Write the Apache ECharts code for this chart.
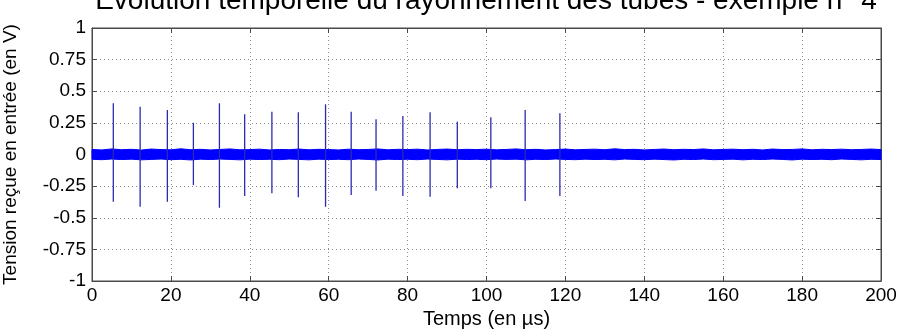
<!DOCTYPE html>
<html>
<head>
<meta charset="utf-8">
<script src="https://cdn.jsdelivr.net/npm/echarts@6/dist/echarts.min.js"></script>
<style>
  html, body { margin: 0; padding: 0; background: #fff; }
  #chart { width: 913px; height: 335px; }
</style>
</head>
<body>
<div id="chart"></div>
<script>
// Axis ticks
const timeTicks = [0, 20, 40, 60, 80, 100, 120, 140, 160, 180, 200];
const voltTicks = [-1, -0.75, -0.5, -0.25, 0, 0.25, 0.5, 0.75, 1];

// Radiated pulses: time (µs), positive peak and negative trough (V)
const pulseTime   = [5.4, 12.2, 19.1, 25.7, 32.3, 38.7, 45.6, 52.3, 59.2, 65.7, 72.0, 78.8, 85.7, 92.6, 101.1, 109.8, 118.6];
const pulsePeak   = [0.405, 0.378, 0.352, 0.251, 0.405, 0.318, 0.338, 0.334, 0.397, 0.338, 0.278, 0.304, 0.334, 0.259, 0.294, 0.352, 0.326];
const pulseTrough = [-0.373, -0.413, -0.373, -0.241, -0.421, -0.328, -0.307, -0.338, -0.413, -0.320, -0.286, -0.328, -0.334, -0.267, -0.267, -0.368, -0.328];

// Background noise envelope (V), sampled every 2.5 µs
const noiseTime = [0, 2.5, 5, 7.5, 10, 12.5, 15, 17.5, 20, 22.5, 25, 27.5, 30, 32.5, 35, 37.5, 40, 42.5, 45, 47.5,
                   50, 52.5, 55, 57.5, 60, 62.5, 65, 67.5, 70, 72.5, 75, 77.5, 80, 82.5, 85, 87.5, 90, 92.5, 95, 97.5,
                   100, 102.5, 105, 107.5, 110, 112.5, 115, 117.5, 120, 122.5, 125, 127.5, 130, 132.5, 135, 137.5, 140, 142.5, 145, 147.5,
                   150, 152.5, 155, 157.5, 160, 162.5, 165, 167.5, 170, 172.5, 175, 177.5, 180, 182.5, 185, 187.5, 190, 192.5, 195, 197.5, 200];
const noiseHigh = [0.040, 0.036, 0.044, 0.038, 0.041, 0.035, 0.043, 0.039, 0.037, 0.045, 0.038, 0.041, 0.036, 0.040, 0.044, 0.037, 0.039, 0.042, 0.036, 0.040,
                   0.038, 0.043, 0.037, 0.041, 0.039, 0.036, 0.042, 0.038, 0.040, 0.044, 0.037, 0.041, 0.039, 0.042, 0.036, 0.040, 0.043, 0.038, 0.041, 0.039,
                   0.042, 0.037, 0.040, 0.044, 0.038, 0.041, 0.036, 0.039, 0.043, 0.037, 0.040, 0.042, 0.038, 0.045, 0.039, 0.041, 0.036, 0.040, 0.043, 0.038,
                   0.041, 0.039, 0.044, 0.037, 0.040, 0.042, 0.038, 0.041, 0.036, 0.043, 0.039, 0.040, 0.044, 0.037, 0.041, 0.039, 0.042, 0.038, 0.040, 0.043, 0.039];
const noiseLow  = [-0.038, -0.041, -0.036, -0.040, -0.037, -0.042, -0.039, -0.036, -0.041, -0.038, -0.043, -0.037, -0.040, -0.036, -0.039, -0.042, -0.037, -0.040, -0.038, -0.041,
                   -0.036, -0.039, -0.042, -0.037, -0.040, -0.038, -0.041, -0.036, -0.039, -0.043, -0.037, -0.040, -0.038, -0.041, -0.036, -0.039, -0.042, -0.037, -0.040, -0.038,
                   -0.041, -0.036, -0.039, -0.037, -0.042, -0.038, -0.040, -0.036, -0.039, -0.041, -0.037, -0.040, -0.038, -0.042, -0.036, -0.039, -0.041, -0.037, -0.040, -0.043,
                   -0.038, -0.040, -0.036, -0.041, -0.039, -0.037, -0.042, -0.038, -0.040, -0.036, -0.039, -0.043, -0.037, -0.040, -0.038, -0.041, -0.036, -0.039, -0.042, -0.038, -0.040];

const FONT = '"Liberation Sans", Arial, sans-serif';
const chart = echarts.init(document.getElementById('chart'), null, { renderer: 'canvas' });

const noiseData = noiseTime.map((t, i) => [t, noiseHigh[i], noiseLow[i]]);
const pulseData = pulseTime.map((t, i) => [t, pulsePeak[i], pulseTrough[i]]);

const gridLine = { show: true, lineStyle: { color: '#8c8c8c', type: [1, 3], width: 1 } };
const frame = { show: true, onZero: false, lineStyle: { color: '#4a4a4a' } };
const innerTick = { show: true, inside: true, length: 5, lineStyle: { color: '#4a4a4a' } };

chart.setOption({
  animation: false,
  backgroundColor: '#ffffff',
  title: {
    text: 'Évolution temporelle du rayonnement des tubes - exemple n° 4',
    left: 486, top: -13, textAlign: 'center', padding: 0,
    textStyle: { fontFamily: FONT, fontSize: 28, fontWeight: 'normal', color: '#000' }
  },
  grid: {
    left: 92, right: 32, top: 28, bottom: 54,
    outerBoundsMode: 'none', containLabel: false,
    show: true, borderColor: '#4a4a4a', borderWidth: 1, backgroundColor: '#fff'
  },
  xAxis: [{
    type: 'value', min: timeTicks[0], max: timeTicks[timeTicks.length - 1], interval: 20,
    name: 'Temps (en µs)', nameLocation: 'middle', nameGap: 25,
    nameTextStyle: { fontFamily: FONT, fontSize: 20, color: '#000' },
    axisLine: frame, axisTick: innerTick,
    axisLabel: { fontFamily: FONT, fontSize: 19, color: '#000', margin: 5 },
    splitLine: gridLine
  }, {
    type: 'value', position: 'top', min: 0, max: 200, interval: 20,
    axisLine: frame, axisTick: innerTick,
    axisLabel: { show: false }, splitLine: { show: false }
  }],
  yAxis: [{
    type: 'value', min: voltTicks[0], max: voltTicks[voltTicks.length - 1], interval: 0.25,
    name: 'Tension reçue en entrée (en V)', nameLocation: 'middle', nameGap: 72, nameRotate: 90,
    nameTextStyle: { fontFamily: FONT, fontSize: 19, color: '#000' },
    axisLine: frame, axisTick: innerTick,
    axisLabel: { fontFamily: FONT, fontSize: 19, color: '#000', margin: 6 },
    splitLine: gridLine
  }, {
    type: 'value', position: 'right', min: -1, max: 1, interval: 0.25,
    axisLine: frame, axisTick: innerTick,
    axisLabel: { show: false }, splitLine: { show: false }
  }],
  series: [{
    // Noise floor drawn as a filled band between its upper and lower envelope
    type: 'custom', name: 'bruit', xAxisIndex: 0, yAxisIndex: 0,
    data: [0],
    renderItem: function (params, api) {
      const upper = noiseData.map(d => api.coord([d[0], d[1]]));
      const lower = noiseData.map(d => api.coord([d[0], d[2]])).reverse();
      return {
        type: 'polygon',
        shape: { points: upper.concat(lower) },
        style: { fill: '#0000ff', stroke: '#0000ff', lineWidth: 1 }
      };
    },
    silent: true, z: 3
  }, {
    // Pulses: one vertical stroke from trough to peak
    type: 'custom', name: 'impulsions', xAxisIndex: 0, yAxisIndex: 0,
    data: pulseData,
    encode: { x: 0, y: [1, 2] },
    renderItem: function (params, api) {
      const top = api.coord([api.value(0), api.value(1)]);
      const bot = api.coord([api.value(0), api.value(2)]);
      return {
        type: 'line',
        shape: { x1: top[0], y1: top[1], x2: bot[0], y2: bot[1] },
        style: { stroke: '#2b2bb0', lineWidth: 1.3 }
      };
    },
    silent: true, z: 4
  }]
});
</script>
</body>
</html>
